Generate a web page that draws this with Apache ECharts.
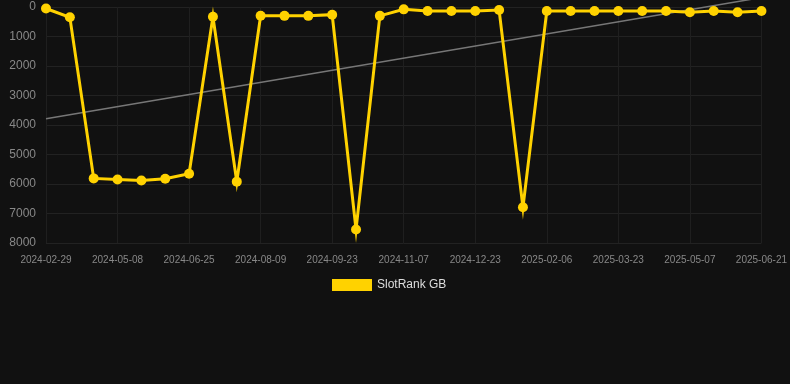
<!DOCTYPE html>
<html>
<head>
<meta charset="utf-8">
<script src="https://cdn.jsdelivr.net/npm/echarts@6/dist/echarts.min.js"></script>
<style>
  html, body { margin: 0; padding: 0; background: #111111; }
  #chart { width: 790px; height: 384px; }
</style>
</head>
<body>
<div id="chart"></div>
<script>
var dates = ['2024-02-29', '2024-03-22', '2024-04-15', '2024-05-08', '2024-05-24', '2024-06-09',
    '2024-06-25', '2024-07-10', '2024-07-25', '2024-08-09', '2024-08-24', '2024-09-08',
    '2024-09-23', '2024-10-08', '2024-10-23', '2024-11-07', '2024-11-22', '2024-12-07',
    '2024-12-23', '2025-01-07', '2025-01-22', '2025-02-06', '2025-02-21', '2025-03-08',
    '2025-03-23', '2025-04-07', '2025-04-22', '2025-05-07', '2025-05-22', '2025-06-06',
    '2025-06-21'];
var rankGB = [50, 350, 5810, 5850, 5880, 5820, 5650, 330, 5920, 295, 300, 300, 260, 7540, 300,
    80, 135, 135, 135, 100, 6790, 135, 135, 135, 135, 135, 135, 180, 135, 180, 135];
// trend line endpoints (first and last date)
var trendStart = 3785, trendEnd = -320;

var dom = document.getElementById('chart');
var chart = echarts.init(dom, null, { width: 790, height: 384 });

var option = {
    backgroundColor: '#111111',
    animation: false,
    grid: { left: 46, right: 28, top: 7, bottom: 141, containLabel: false },
    legend: {
        data: ['SlotRank GB'],
        top: 274,
        left: 327,
        itemWidth: 40,
        itemHeight: 12,
        icon: 'rect',
        textStyle: { color: '#dddddd', fontSize: 12, fontFamily: 'Liberation Sans, Arial, sans-serif' }
    },
    xAxis: {
        type: 'category',
        boundaryGap: false,
        data: dates,
        axisLine: { show: false },
        axisTick: { show: false },
        axisLabel: { interval: 2, color: '#888888', fontSize: 10, margin: 12,
            fontFamily: 'Liberation Sans, Arial, sans-serif' },
        splitLine: { show: true, interval: 2, lineStyle: { color: '#1f1f1f', width: 1 } }
    },
    yAxis: {
        type: 'value',
        inverse: true,
        min: 0,
        max: 8000,
        interval: 1000,
        axisLine: { show: false },
        axisTick: { show: false },
        axisLabel: { color: '#888888', fontSize: 12, margin: 10,
            fontFamily: 'Liberation Sans, Arial, sans-serif',
            formatter: function (v) { return String(v); } },
        splitLine: { lineStyle: { color: '#222222', width: 1 } }
    },
    series: [
        {
            name: 'SlotRank GB',
            type: 'line',
            data: rankGB,
            symbol: 'circle',
            symbolSize: 10,
            color: '#ffd200',
            lineStyle: { width: 3, color: '#ffd200', join: 'miter', miterLimit: 10 },
            itemStyle: { color: '#ffd200' },
            z: 3
        },
        {
            name: 'trend',
            type: 'line',
            data: [[dates[0], trendStart], [dates[dates.length - 1], trendEnd]],
            symbol: 'none',
            clip: false,
            lineStyle: { width: 1.5, color: '#777777' },
            z: 2
        }
    ]
};
chart.setOption(option);
</script>
</body>
</html>
